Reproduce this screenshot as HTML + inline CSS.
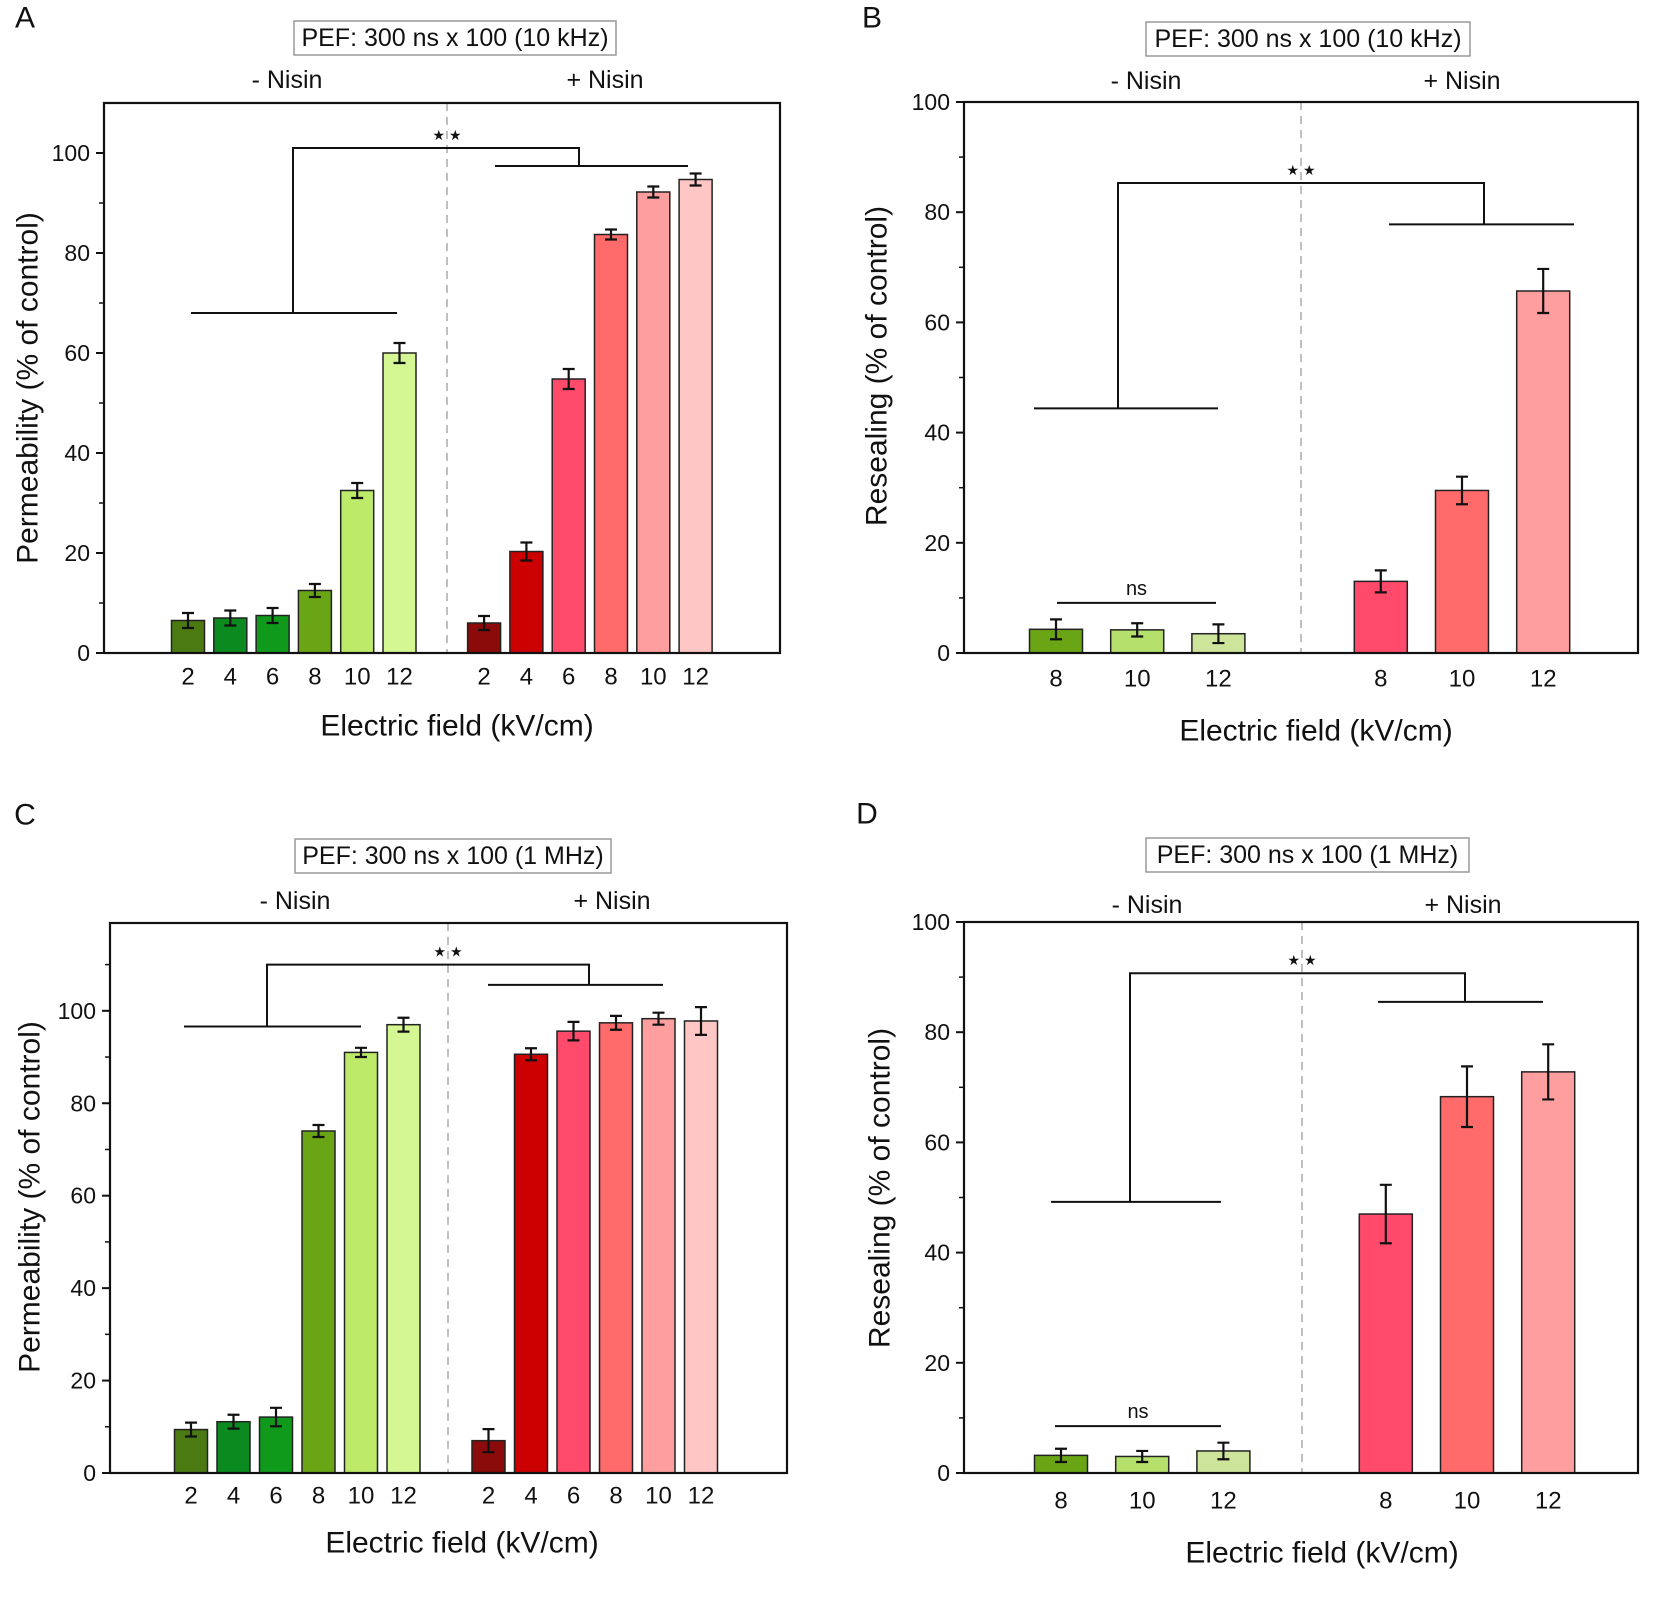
<!DOCTYPE html>
<html><head><meta charset="utf-8"><style>
html,body{margin:0;padding:0;background:#fff;}
svg{display:block;font-family:"Liberation Sans",Arial,sans-serif;}
</style></head><body>
<svg id="fig" width="1654" height="1600" viewBox="0 0 1654 1600" xmlns="http://www.w3.org/2000/svg"></svg>
<script>
// ---- Panel A data ----
const aCats = ["2","4","6","8","10","12","2","4","6","8","10","12"];
const aValues = [6.5,7,7.5,12.5,32.5,60, 6,20.3,54.8,83.7,92.2,94.7];
const aErrors = [1.5,1.5,1.5,1.3,1.5,2, 1.4,1.8,2,1,1.1,1.2];
const aTicks = [0,20,40,60,80,100];
// ---- Panel B data ----
const bCats = ["8","10","12","8","10","12"];
const bValues = [4.3,4.2,3.5, 13,29.5,65.7];
const bErrors = [1.8,1.2,1.7, 2,2.5,4];
const bTicks = [0,20,40,60,80,100];
// ---- Panel C data ----
const cCats = ["2","4","6","8","10","12","2","4","6","8","10","12"];
const cValues = [9.4,11.1,12.1,74,91,97, 7,90.6,95.6,97.4,98.3,97.8];
const cErrors = [1.5,1.5,2,1.3,1,1.5, 2.5,1.3,2,1.5,1.3,3];
const cTicks = [0,20,40,60,80,100];
// ---- Panel D data ----
const dCats = ["8","10","12","8","10","12"];
const dValues = [3.2,3,4, 47,68.3,72.8];
const dErrors = [1.2,1,1.5, 5.3,5.5,5];
const dTicks = [0,20,40,60,80,100];

const svg = document.getElementById('fig');
const NS = 'http://www.w3.org/2000/svg';
function mk(tag, attrs, parent){
  const e = document.createElementNS(NS, tag);
  for (const k in attrs) e.setAttribute(k, attrs[k]);
  (parent||svg).appendChild(e);
  return e;
}
function txt(x,y,s,size,anchor,parent){
  const t = mk('text',{x:x,y:y,'font-size':size,'text-anchor':anchor||'middle','dominant-baseline':'central',fill:'#111'},parent);
  t.textContent = s;
  return t;
}

function panel(o){
  const g = mk('g',{});
  
  
  const y = v => o.bottom - (v - 0) / (o.ymax) * (o.bottom - o.top);
  const x = i => o.x0 + o.slot * (i < o.half ? i : i + o.gapSlots);
  const L = txt(o.letterX, o.letterY, o.letter, 30, 'middle', g);
  
  
  const tb = mk('rect',{x:o.tbx,y:o.tby,width:o.tbw,height:34,fill:'#fff',stroke:'#999','stroke-width':1.5},g);
  
  
  const tt = txt(o.tbx+o.tbw/2, o.tby+17, o.title, 25, 'middle', g);
  
  
  const n1 = txt(o.minusX, o.nisinY, '- Nisin', 25, 'middle', g);
  
  
  const n2 = txt(o.plusX, o.nisinY, '+ Nisin', 25, 'middle', g);
  
  
  const dl = mk('line',{x1:o.dashX,x2:o.dashX,y1:o.top,y2:o.bottom,stroke:'#aaa','stroke-width':1.5,'stroke-dasharray':'8,6'},g);
  
  
  o.values.forEach((v,i)=>{
    const cx = x(i);
    const b = mk('rect',{x:cx-o.bw/2,y:y(v),width:o.bw,height:o.bottom-y(v),fill:o.colors[i],stroke:'#222','stroke-width':1.5},g);
    
    
    const e = o.errors[i];
    const ep = mk('path',{d:`M${cx-6},${y(v+e)}H${cx+6}M${cx},${y(v+e)}V${y(v-e)}M${cx-6},${y(v-e)}H${cx+6}`,stroke:'#111','stroke-width':2.2,fill:'none'},g);
    
    
    const tl = txt(cx, o.tickLabelY, o.cats[i], 24, 'middle', g);
    
    
  });
  const ax = mk('rect',{x:o.left,y:o.top,width:o.right-o.left,height:o.bottom-o.top,fill:'none',stroke:'#111','stroke-width':2.2},g);
  
  
  o.ticks.forEach(t=>{
    mk('line',{x1:o.left-8,x2:o.left,y1:y(t),y2:y(t),stroke:'#111','stroke-width':2},g);
    const l = txt(o.left-14, y(t), String(t), 23, 'end', g);
    
    
  });
  for (let t=o.minor; t<o.ymax; t+=20) mk('line',{x1:o.left-5,x2:o.left,y1:y(t),y2:y(t),stroke:'#111','stroke-width':1.5},g);
  const xt = txt(o.xTitleX, o.xTitleY, 'Electric field (kV/cm)', 30, 'middle', g);
  
  
  const yt = txt(0,0,o.ytitle,30,'middle',g);
  yt.setAttribute('transform',`translate(${o.yTitleX},${o.yTitleY}) rotate(-90)`);
  
  
  const br = o.br;
  const bp = mk('path',{d:`M${br.lh1},${y(br.lv)}H${br.lh2}M${br.lx},${y(br.lv)}V${y(br.top)}H${br.rx}V${y(br.rv)}M${br.rh1},${y(br.rv)}H${br.rh2}`,stroke:'#111','stroke-width':2,fill:'none'},g);
  
  
  const st = txt(o.dashX, y(br.top)-13, '★ ★', 14, 'middle', g);
  
  
  if (o.ns){
    const nl = mk('line',{x1:o.ns.x1,x2:o.ns.x2,y1:y(o.ns.v),y2:y(o.ns.v),stroke:'#111','stroke-width':2},g);
    
    
    const nt = txt((o.ns.x1+o.ns.x2)/2, y(o.ns.v)-14, 'ns', 20, 'middle', g);
    
    
  }
}

const greens6 = ['#4c7a12','#0b8a20','#0f9a1c','#6aa516','#bdea68','#d4f794'];
const reds6 = ['#8b0a0a','#cc0000','#ff4a6c','#ff6a6a','#ff9e9e','#ffc6c6'];
const greens3 = ['#6aa516','#b6e06c','#cde59a'];
const reds3 = ['#ff4a6c','#ff6a6a','#ff9e9e'];

panel({name:'panel-a',letter:'A',letterX:25,letterY:18,title:'PEF: 300 ns x 100 (10 kHz)',tbx:294,tby:21,tbw:322,
  minusX:287,plusX:605,nisinY:80,left:104,right:780,top:103,bottom:653,ymax:110,ticks:aTicks,minor:10,
  x0:188,slot:42.3,half:6,gapSlots:1,bw:33,dashX:447,values:aValues,errors:aErrors,cats:aCats,colors:greens6.concat(reds6),
  tickLabelY:677,xTitleX:457,xTitleY:726,yTitleX:28,yTitleY:388,ytitle:'Permeability (% of control)',
  br:{top:101,lx:293,rx:579,lv:68,lh1:191,lh2:397,rv:97.4,rh1:495,rh2:688}});

panel({name:'panel-b',letter:'B',letterX:872,letterY:18,title:'PEF: 300 ns x 100 (10 kHz)',tbx:1146,tby:22,tbw:324,
  minusX:1146,plusX:1462,nisinY:81,left:964,right:1638,top:102,bottom:653,ymax:100,ticks:bTicks,minor:10,
  x0:1056,slot:81.2,half:3,gapSlots:1,bw:53,dashX:1301,values:bValues,errors:bErrors,cats:bCats,colors:greens3.concat(reds3),
  tickLabelY:679,xTitleX:1316,xTitleY:731,yTitleX:877,yTitleY:366,ytitle:'Resealing (% of control)',
  br:{top:85.3,lx:1118,rx:1484,lv:44.4,lh1:1034,lh2:1218,rv:77.8,rh1:1389,rh2:1574},
  ns:{x1:1057,x2:1216,v:9.1}});

panel({name:'panel-c',letter:'C',letterX:25,letterY:815,title:'PEF: 300 ns x 100 (1 MHz)',tbx:295,tby:839,tbw:316,
  minusX:295,plusX:612,nisinY:901,left:110,right:787,top:923,bottom:1473,ymax:119,ticks:cTicks,minor:10,
  x0:191,slot:42.5,half:6,gapSlots:1,bw:33,dashX:448,values:cValues,errors:cErrors,cats:cCats,colors:greens6.concat(reds6),
  tickLabelY:1496,xTitleX:462,xTitleY:1543,yTitleX:30,yTitleY:1197,ytitle:'Permeability (% of control)',
  br:{top:110,lx:267,rx:589,lv:96.6,lh1:184,lh2:361,rv:105.6,rh1:488,rh2:663}});

panel({name:'panel-d',letter:'D',letterX:867,letterY:814,title:'PEF: 300 ns x 100 (1 MHz)',tbx:1146,tby:838,tbw:323,
  minusX:1147,plusX:1463,nisinY:905,left:964,right:1638,top:922,bottom:1473,ymax:100,ticks:dTicks,minor:10,
  x0:1061,slot:81.2,half:3,gapSlots:1,bw:53,dashX:1302,values:dValues,errors:dErrors,cats:dCats,colors:greens3.concat(reds3),
  tickLabelY:1501,xTitleX:1322,xTitleY:1553,yTitleX:880,yTitleY:1188,ytitle:'Resealing (% of control)',
  br:{top:90.7,lx:1130,rx:1465,lv:49.2,lh1:1051,lh2:1221,rv:85.5,rh1:1378,rh2:1543},
  ns:{x1:1055,x2:1221,v:8.5}});
</script>
</body></html>
